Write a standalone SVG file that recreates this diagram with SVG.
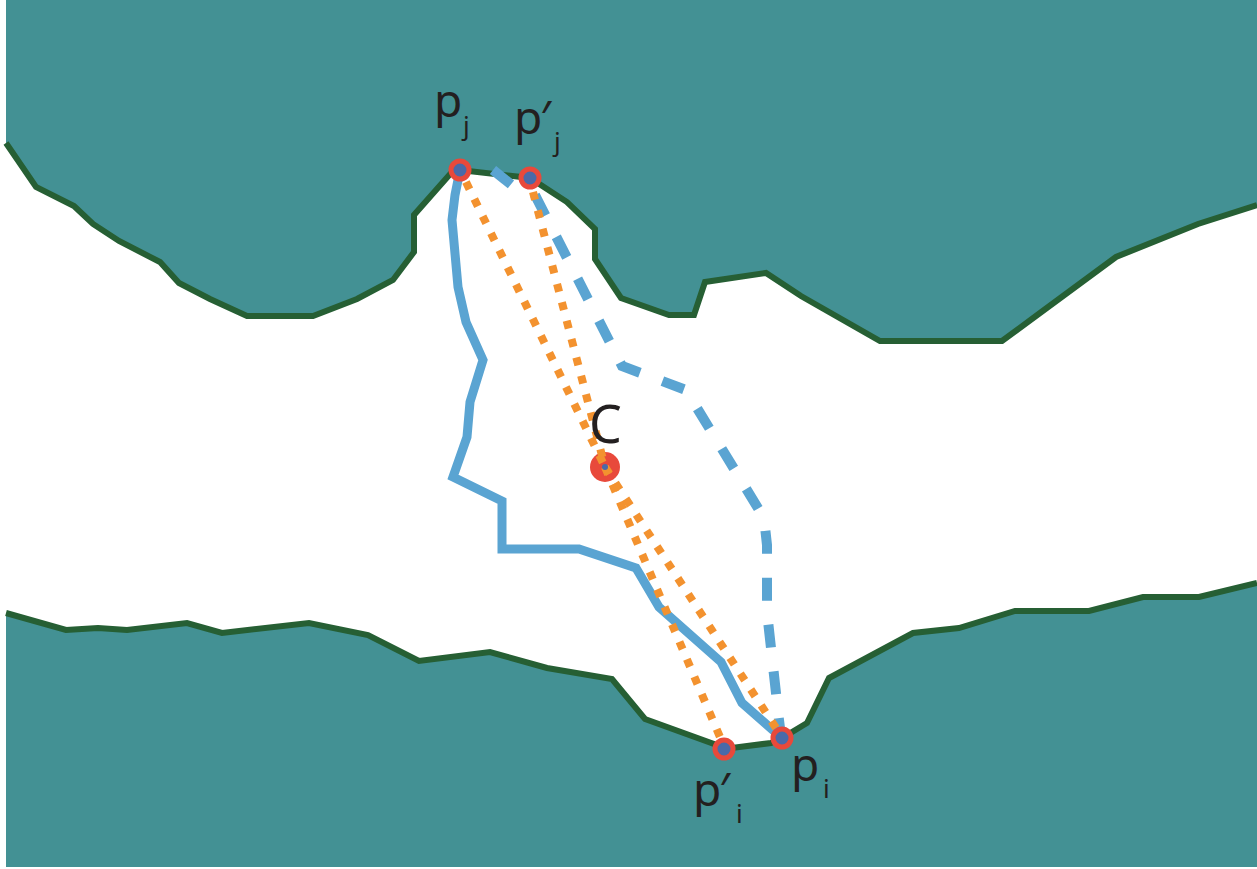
<svg xmlns="http://www.w3.org/2000/svg" width="1257" height="869" viewBox="0 0 1257 869">
<style>
.land{fill:#439194;stroke:none}
.edge{fill:none;stroke:#265f34;stroke-width:6;stroke-linejoin:miter}
.solid{fill:none;stroke:#5aa4d2;stroke-width:9;stroke-linejoin:miter}
.dash{fill:none;stroke:#5aa4d2;stroke-width:10;stroke-dasharray:23 24}
.dot{fill:none;stroke:#f3922f;stroke-width:8;stroke-dasharray:8 11}
.pt{fill:#4a6aa8;stroke:#e8493b;stroke-width:5}
.lbl{font-family:"Noto Sans","Open Sans",sans-serif;fill:#231f20}
</style>
<rect x="0" y="0" width="1257" height="869" fill="#ffffff"/>
<g id="top-land">
<polygon class="land" points="6,0 1257,0 1257,205 1198,224 1116,257 1040,313 1002,341 880,341 801,296 766,273 705,282 694,315 669,315 621,298 595,259 595,229 567,202 530,178 460,170 451,173 414,215 414,252 393,280 357,299 313,316 247,316 210,299 179,283 160,262 119,241 93,224 74,206 36,187 6,143"/>
<polyline class="edge" points="6,143 36,187 74,206 93,224 119,241 160,262 179,283 210,299 247,316 313,316 357,299 393,280 414,252 414,215 451,173 460,170 530,178 567,202 595,229 595,259 621,298 669,315 694,315 705,282 766,273 801,296 880,341 1002,341 1040,313 1116,257 1198,224 1257,205"/>
</g>
<g id="bottom-land">
<polygon class="land" points="6,613 66,630 98,628 127,630 187,623 222,633 309,623 368,635 419,661 490,652 547,668 612,679 645,719 714,744 724,749 771,743 782,738 807,723 829,678 913,633 959,628 1015,611 1089,611 1143,597 1199,597 1257,583 1257,867 6,867"/>
<polyline class="edge" points="6,613 66,630 98,628 127,630 187,623 222,633 309,623 368,635 419,661 490,652 547,668 612,679 645,719 714,744 724,749 771,743 782,738 807,723 829,678 913,633 959,628 1015,611 1089,611 1143,597 1199,597 1257,583"/>
</g>
<g id="connectors">
<polyline class="solid" points="460,170 455,195 452,220 458,287 466,322 483,360 470,402 467,437 453,477 502,501 502,549 579,549 636,568 659,607 721,662 742,703 782,738"/>
<path class="dash" d="M493,170 L513,186"/>
<path class="dash" d="M535,195 L622,366 L686,390 L764,518 L767,545 L767,612 L779,720 L781,736"/>
</g>
<g id="node-c">
<circle cx="605" cy="467" r="15" fill="#e8493b"/>
</g>
<g id="orange-lines">
<line class="dot" x1="466" y1="182" x2="605" y2="467"/>
<line class="dot" x1="533" y1="192" x2="605" y2="467"/>
<line class="dot" x1="605" y1="467" x2="720" y2="737"/>
<line class="dot" x1="605" y1="467" x2="776" y2="728"/>
</g>
<circle cx="605" cy="467" r="3" fill="#4a6aa8"/>
<g id="node-pj">
<circle class="pt" cx="460" cy="170" r="9"/>
<text class="lbl" x="434" y="117" font-size="46">p<tspan font-size="26" x="463" y="135">j</tspan></text>
</g>
<g id="node-pj-prime">
<circle class="pt" cx="530" cy="178" r="9"/>
<text class="lbl" x="514" y="134" font-size="46">p<tspan dx="-2">′</tspan><tspan font-size="26" x="554" y="151">j</tspan></text>
</g>
<g id="node-pi-prime">
<circle class="pt" cx="724" cy="749" r="9"/>
<text class="lbl" x="693" y="806" font-size="46">p<tspan dx="-2">′</tspan><tspan font-size="26" x="736" y="823">i</tspan></text>
</g>
<g id="node-pi">
<circle class="pt" cx="782" cy="738" r="9"/>
<text class="lbl" x="791" y="781" font-size="46">p<tspan font-size="26" x="823" y="798">i</tspan></text>
</g>
<g id="label-c">
<text class="lbl" x="589" y="443" font-size="52">C</text>
</g>
</svg>
